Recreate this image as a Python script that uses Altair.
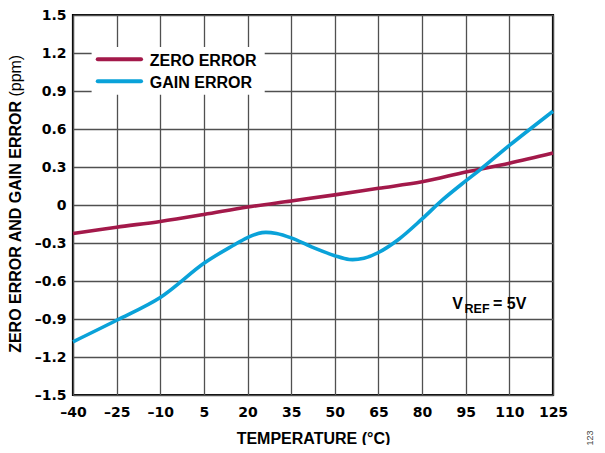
import altair as alt
import pandas as pd

# ---- data ----
temp_zero = [-40, -25, -10, 5, 20, 35, 50, 65, 80, 95, 110, 125]
zero_err = [-0.225, -0.175, -0.13, -0.075, -0.016, 0.032, 0.08, 0.132, 0.183, 0.26, 0.33, 0.41]

temp_gain = [-40, -25, -10, 5, 15, 20, 25, 30, 35, 42, 50, 55, 60, 65, 72, 80, 87, 95, 100, 110, 125]
gain_err = [-1.08, -0.91, -0.73, -0.46, -0.32, -0.257, -0.218, -0.225, -0.26, -0.33, -0.40,
            -0.43, -0.42, -0.375, -0.27, -0.11, 0.04, 0.19, 0.28, 0.47, 0.74]

series_names = ["ZERO ERROR", "GAIN ERROR"]
series_colors = ["#A3194A", "#0AA2D9"]

x_ticks = [-40, -25, -10, 5, 20, 35, 50, 65, 80, 95, 110, 125]
y_ticks = [-1.5, -1.2, -0.9, -0.6, -0.3, 0, 0.3, 0.6, 0.9, 1.2, 1.5]

# legend placement (data units)
legend_box_x = [-33.6, 25.9]
legend_box_y = [0.870, 1.247]
legend_rule_x = [-31.5, -16.6]
legend_rule_y = [1.150, 0.977]
legend_text_y = [1.140, 0.967]
legend_text_x = -13.6

FONT = "Liberation Sans"
TICK_FONT = "DejaVu Sans"

df = pd.concat([
    pd.DataFrame({"temp": temp_zero, "val": zero_err, "series": series_names[0]}),
    pd.DataFrame({"temp": temp_gain, "val": gain_err, "series": series_names[1]}),
])

xscale = alt.Scale(domain=[-40, 125], nice=False, zero=False)
yscale = alt.Scale(domain=[-1.5, 1.5], nice=False, zero=False)
cscale = alt.Scale(domain=series_names, range=series_colors)

x_axis = alt.Axis(values=x_ticks, tickCount=len(x_ticks) + 2, title="TEMPERATURE (°C)",
                  labelExpr="datum.value < 0 ? '–' + abs(datum.value) : '' + datum.value",
                  labelPadding=10, titlePadding=11, ticks=False, domain=False,
                  labelOverlap=False, labelFlush=False,
                  gridColor="#505050", gridWidth=1.3, gridOpacity=1,
                  labelFont=TICK_FONT, labelFontSize=14, labelFontWeight="bold", labelColor="black",
                  titleFont=FONT, titleFontSize=16, titleFontWeight="bold", titleColor="black")
y_axis = alt.Axis(values=y_ticks, tickCount=len(y_ticks) + 2, title=None,
                  labelExpr="datum.value == 0 ? '0' : (datum.value < 0 ? '–' : '') + format(abs(datum.value), '.1f')",
                  labelPadding=7, ticks=False, domain=False,
                  labelOverlap=False, labelFlush=False,
                  gridColor="#505050", gridWidth=1.3, gridOpacity=1,
                  labelFont=TICK_FONT, labelFontSize=14, labelFontWeight="bold", labelColor="black")

lines = alt.Chart(df).mark_line(strokeWidth=3.6, interpolate="catmull-rom").encode(
    x=alt.X("temp:Q", scale=xscale, axis=x_axis),
    y=alt.Y("val:Q", scale=yscale, axis=y_axis),
    color=alt.Color("series:N", scale=cscale, legend=None),
    detail="series:N",
)

box_df = pd.DataFrame({"x1": [legend_box_x[0]], "x2": [legend_box_x[1]],
                       "y1": [legend_box_y[0]], "y2": [legend_box_y[1]]})
legend_box = alt.Chart(box_df).mark_rect(color="white").encode(
    x=alt.X("x1:Q", scale=xscale), x2="x2", y=alt.Y("y1:Q", scale=yscale), y2="y2")

leg_df = pd.DataFrame({"series": series_names, "ry": legend_rule_y, "ty": legend_text_y,
                       "x1": [legend_rule_x[0]] * 2, "x2": [legend_rule_x[1]] * 2,
                       "tx": [legend_text_x] * 2})
legend_rules = alt.Chart(leg_df).mark_rule(strokeWidth=4, strokeCap="round").encode(
    x=alt.X("x1:Q", scale=xscale), x2="x2", y=alt.Y("ry:Q", scale=yscale),
    color=alt.Color("series:N", scale=cscale, legend=None))
legend_text = alt.Chart(leg_df).mark_text(align="left", baseline="middle", font=FONT,
                                          fontSize=16, fontWeight="bold", color="black").encode(
    x=alt.X("tx:Q", scale=xscale), y=alt.Y("ty:Q", scale=yscale), text="series:N")

# y-axis title: bold part + regular "(ppm)"
ytitle_df = pd.DataFrame({"t": ["ZERO ERROR AND GAIN ERROR"]})
ytitle_bold = alt.Chart(ytitle_df).mark_text(angle=270, align="right", baseline="middle", font=FONT,
                                             fontSize=16, fontWeight="bold", color="black").encode(
    x=alt.value(-57), y=alt.value(86), text="t:N")
yunit_df = pd.DataFrame({"t": ["(ppm)"]})
ytitle_unit = alt.Chart(yunit_df).mark_text(angle=270, align="left", baseline="middle", font=FONT,
                                            fontSize=16, fontWeight="normal", color="black").encode(
    x=alt.value(-57), y=alt.value(81.6), text="t:N")

ann_df = pd.DataFrame({"x": [90.4, 104.4], "y": [-0.78, -0.78], "t": ["V", "= 5V"]})
ann = alt.Chart(ann_df).mark_text(align="left", baseline="middle", font=FONT, fontSize=16,
                                  fontWeight="bold", color="black").encode(
    x=alt.X("x:Q", scale=xscale), y=alt.Y("y:Q", scale=yscale), text="t:N")
sub_df = pd.DataFrame({"x": [94.6], "y": [-0.82], "t": ["REF"]})
sub = alt.Chart(sub_df).mark_text(align="left", baseline="middle", font=FONT, fontSize=12.5,
                                  fontWeight="bold", color="black").encode(
    x=alt.X("x:Q", scale=xscale), y=alt.Y("y:Q", scale=yscale), text="t:N")

code_df = pd.DataFrame({"t": ["123"]})
code = alt.Chart(code_df).mark_text(angle=270, align="center", baseline="middle", font=FONT,
                                    fontSize=9, color="#444").encode(
    x=alt.value(517), y=alt.value(423), text="t:N")

chart = alt.layer(lines, legend_box, legend_rules, legend_text, ytitle_bold, ytitle_unit,
                  ann, sub, code).properties(
    width=480, height=380,
    autosize=alt.AutoSizeParams(type="none"),
    padding={"left": 65, "top": 7, "right": 44, "bottom": 50},
).configure_view(stroke="black", strokeWidth=2.2)

chart.save("out.html", embed_options={"renderer": "svg", "actions": False})
